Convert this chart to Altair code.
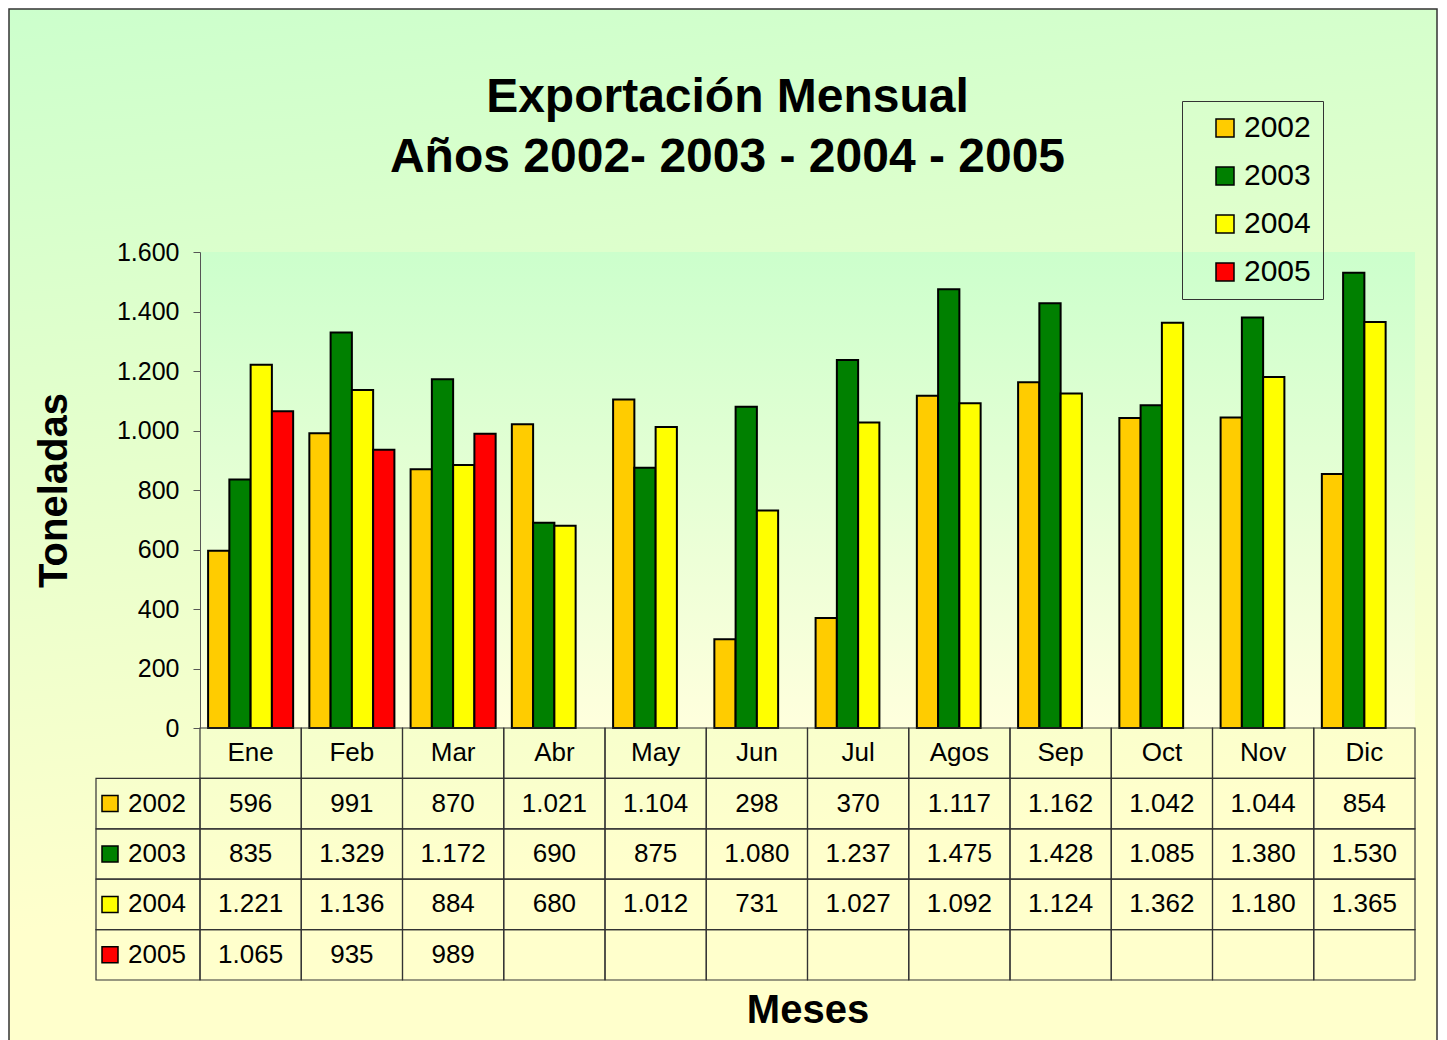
import altair as alt
import pandas as pd

# ---- data ----
months = ["Ene", "Feb", "Mar", "Abr", "May", "Jun", "Jul", "Agos", "Sep", "Oct", "Nov", "Dic"]
years = ["2002", "2003", "2004", "2005"]
v2002 = [596, 991, 870, 1021, 1104, 298, 370, 1117, 1162, 1042, 1044, 854]
v2003 = [835, 1329, 1172, 690, 875, 1080, 1237, 1475, 1428, 1085, 1380, 1530]
v2004 = [1221, 1136, 884, 680, 1012, 731, 1027, 1092, 1124, 1362, 1180, 1365]
v2005 = [1065, 935, 989, None, None, None, None, None, None, None, None, None]
colors = ["#FFCC00", "#008000", "#FFFF00", "#FF0000"]
y_ticks = [0, 200, 400, 600, 800, 1000, 1200, 1400, 1600]
title_lines = ["Exportación Mensual", "Años 2002- 2003 - 2004 - 2005"]
row_domain = ["Mes"] + years

FONT = "Liberation Sans"
W, H = 1215, 476

rows = []
for yr, vals in zip(years, [v2002, v2003, v2004, v2005]):
    for m, v in zip(months, vals):
        rows.append({
            "month": m, "year": yr, "row": yr, "value": v,
            "label": "" if v is None else f"{v:,}".replace(",", "."),
        })
df = pd.DataFrame(rows)
bars_df = df.dropna(subset=["value"])
header_df = pd.DataFrame({"month": months, "row": ["Mes"] * 12, "label": months})
text_df = pd.concat([header_df, df[["month", "row", "label"]]], ignore_index=True)
cells_df = pd.DataFrame([{"month": m, "row": r} for r in row_domain for m in months])
left_df = pd.DataFrame({"col": ["lbl"] * 4, "row": years, "year": years})
one = pd.DataFrame({"a": [0]})

color_scale = alt.Scale(domain=years, range=colors)

# ---- backgrounds ----
outer_bg = alt.Chart(one).mark_rect(
    fill=alt.LinearGradient(
        gradient="linear", x1=0, x2=0.15, y1=0, y2=1,
        stops=[alt.GradientStop(color="#CCFFCC", offset=0),
               alt.GradientStop(color="#FFFFCC", offset=0.85)]),
    stroke="#333333", strokeWidth=1.5,
).encode(x=alt.value(-191), x2=alt.value(1237), y=alt.value(-243), y2=alt.value(820))

plot_bg = alt.Chart(one).mark_rect(
    fill=alt.LinearGradient(
        gradient="linear", x1=0, x2=0, y1=0, y2=1,
        stops=[alt.GradientStop(color="#CCFFCC", offset=0),
               alt.GradientStop(color="#FFFFDD", offset=1)]),
).encode(x=alt.value(0), x2=alt.value(W), y=alt.value(0), y2=alt.value(H))

# ---- bars ----
bars = alt.Chart(bars_df).mark_bar(stroke="black", strokeWidth=2).encode(
    x=alt.X("month:N", sort=months,
            scale=alt.Scale(domain=months, paddingInner=0.16, paddingOuter=0.08),
            axis=alt.Axis(labels=False, ticks=False, domain=False, grid=False, zindex=2,
                          title="Meses", titleFont=FONT, titleFontSize=40,
                          titleFontWeight="bold", titleColor="black",
                          titleY=282, titleBaseline="middle")),
    xOffset=alt.XOffset("year:N", scale=alt.Scale(domain=years)),
    y=alt.Y("value:Q", scale=alt.Scale(domain=[0, 1600]),
            axis=alt.Axis(values=y_ticks, grid=False, zindex=2,
                          labelExpr="replace(format(datum.value, ','), ',', '.')",
                          labelFont=FONT, labelFontSize=25, labelColor="black",
                          labelPadding=14, tickSize=7, tickColor="#555555",
                          domainColor="#555555",
                          title="Toneladas", titleFont=FONT, titleFontSize=40,
                          titleFontWeight="bold", titleColor="black", titleAngle=270,
                          titleX=-146, titleY=238, titleAlign="center",
                          titleBaseline="middle")),
    color=alt.Color("year:N", scale=color_scale, title=None,
                    legend=alt.Legend(orient="none", legendX=982, legendY=-151,
                                      symbolType="square", symbolSize=324,
                                      symbolStrokeColor="black", symbolStrokeWidth=1.5,
                                      labelFont=FONT, labelFontSize=30, labelColor="black",
                                      labelExpr="datum.label + '\u00a0\u00a0'",
                                      padding=12, rowPadding=18, symbolOffset=16,
                                      labelOffset=4, strokeColor="#333333")),
)

# ---- data table ----
tx = alt.X("month:N", sort=months,
           scale=alt.Scale(domain=months, paddingInner=0, paddingOuter=0), axis=None)
ty = alt.Y("row:N", scale=alt.Scale(domain=row_domain, range=[H, 728],
                                    paddingInner=0, paddingOuter=0), axis=None)

cells = alt.Chart(cells_df).mark_rect(fillOpacity=0, stroke="#333333", strokeWidth=1.2).encode(
    x=tx, y=ty)

lscale = alt.Scale(domain=["lbl"], range=[-104, 0], paddingInner=0, paddingOuter=0)
left_cells = alt.Chart(left_df).mark_rect(fillOpacity=0, stroke="#333333", strokeWidth=1.2).encode(
    x=alt.X("col:N", scale=lscale, axis=None), y=ty)

texts = alt.Chart(text_df).mark_text(font=FONT, fontSize=26, color="black",
                                     baseline="middle", align="center").encode(
    x=tx, y=ty, text="label:N")

# row-label column: the label text starts at the centre of its band, the square sits centred in its band
txt_scale = alt.Scale(domain=["lbl"], range=[-82, -62], paddingInner=0, paddingOuter=0)
sq_scale = alt.Scale(domain=["lbl"], range=[-100, -80], paddingInner=0, paddingOuter=0)

left_texts = alt.Chart(left_df).mark_text(font=FONT, fontSize=26, color="black",
                                          baseline="middle", align="left").encode(
    x=alt.X("col:N", scale=txt_scale, axis=None), y=ty, text="year:N")

left_squares = alt.Chart(left_df).mark_point(shape="square", filled=True, size=256,
                                             stroke="black", strokeWidth=1.5,
                                             opacity=1).encode(
    x=alt.X("col:N", scale=sq_scale, axis=None), y=ty,
    fill=alt.Fill("year:N", scale=color_scale, legend=None))

chart = alt.layer(
    outer_bg, plot_bg, bars, cells, left_cells, texts, left_texts, left_squares
).resolve_scale(x="independent", y="independent").properties(
    width=W, height=H,
    autosize=alt.AutoSizeParams(type="none"),
    padding={"left": 192, "top": 244, "right": 24, "bottom": 312},
    background="white",
    title=alt.TitleParams(text=title_lines, font=FONT, fontSize=48, fontWeight="bold",
                          color="black", anchor="middle", frame="group", dx=-80,
                          lineHeight=60, offset=0, baseline="top", dy=174),
).configure_view(strokeWidth=0)

chart.save("out.html", embed_options={"renderer": "svg", "actions": False})
